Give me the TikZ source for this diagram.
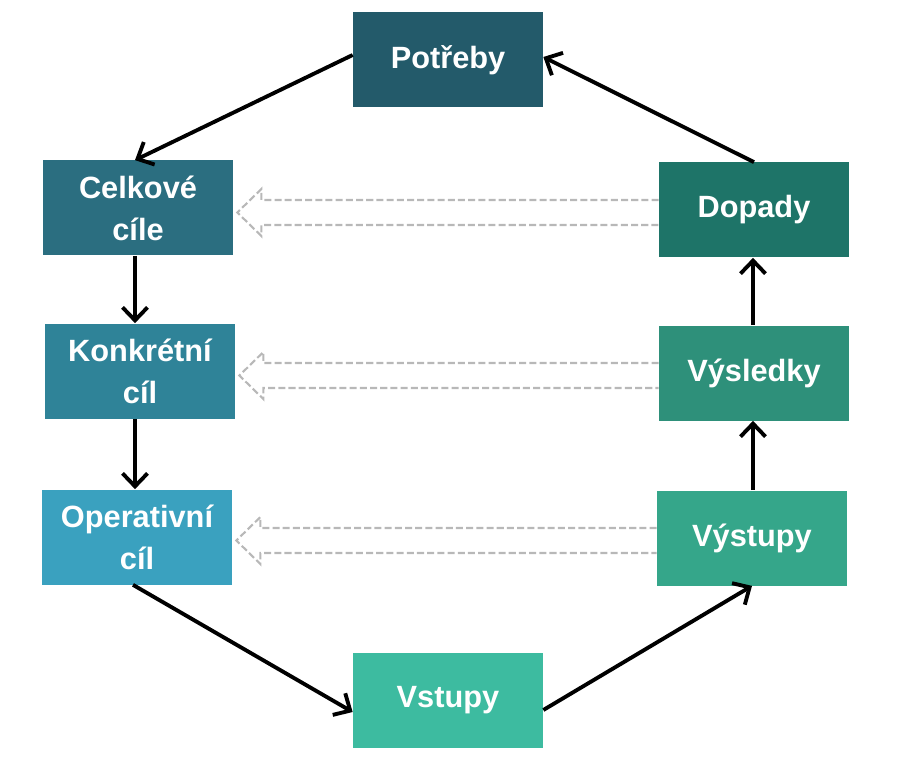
\documentclass[tikz,border=0pt]{standalone}
\usepackage{fontspec}
\setmainfont{Liberation Sans}
\usepackage{xcolor}
\usepackage{tikz}
\usetikzlibrary{arrows.meta}

\definecolor{cPotreby}{HTML}{235A6A}
\definecolor{cCelkove}{HTML}{2B6E80}
\definecolor{cKonkretni}{HTML}{2F8398}
\definecolor{cOperativni}{HTML}{3AA1BF}
\definecolor{cVstupy}{HTML}{3DBBA0}
\definecolor{cVystupy}{HTML}{35A68A}
\definecolor{cVysledky}{HTML}{2E907A}
\definecolor{cDopady}{HTML}{1E7468}
\definecolor{cDash}{HTML}{B8B8B8}

\tikzset{
    box/.style={minimum width=3.8cm, minimum height=1.9cm, text=white, align=center,
        font=\fontsize{17.5}{24}\selectfont\bfseries, inner sep=0pt},
    flow/.style={line width=2.2pt, -{Straight Barb[length=2.6mm, width=5mm, line width=2.2pt]}},
    hollow/.style={cDash, line width=1.2pt, dash pattern=on 4pt off 1.8pt}
}

\begin{document}
\begin{tikzpicture}
    \useasboundingbox (0,0) rectangle (18,15.4);
    \node[box, fill=cPotreby] (potreby) at (8.96,14.2) {\raisebox{-0.1cm}{Potřeby}};
    \node[box, fill=cCelkove] (celkove) at (2.76,11.24) {Celkové\\cíle};
    \node[box, fill=cKonkretni] (konkretni) at (2.80,7.98) {Konkrétní\\cíl};
    \node[box, fill=cOperativni] (operativni) at (2.74,4.66) {Operativní\\cíl};
    \node[box, fill=cVstupy] (vstupy) at (8.96,1.40) {Vstupy};
    \node[box, fill=cVystupy] (vystupy) at (15.04,4.64) {Výstupy};
    \node[box, fill=cVysledky] (vysledky) at (15.08,7.94) {Výsledky};
    \node[box, fill=cDopady] (dopady) at (15.08,11.20) {Dopady};
    % feedback (hollow dashed arrows)
    \foreach \src/\dst in {dopady/celkove, vysledky/konkretni, vystupy/operativni}{
        \coordinate (tip) at ([shift={(0.08,-0.05)}]\dst.east |- \src.west);
        \draw[hollow] ([yshift=0.2cm]\src.west) -- ([shift={(0.48,0.25)}]tip)
            -- ([shift={(0.48,0.47)}]tip) -- (tip) -- ([shift={(0.48,-0.47)}]tip)
            -- ([shift={(0.48,-0.25)}]tip) -- ([yshift=-0.3cm]\src.west);
    }
    % cycle
    \draw[flow] ([yshift=0.1cm]potreby.west) -- ([xshift=-0.06cm]celkove.north);
    \draw[flow] ([xshift=-0.06cm]celkove.south) -- ([xshift=-0.06cm]celkove.south |- konkretni.north);
    \draw[flow] ([xshift=-0.06cm]celkove.south |- konkretni.south) -- ([xshift=-0.06cm]celkove.south |- operativni.north);
    \draw[flow] ([xshift=-0.08cm]operativni.south) -- ([yshift=-0.24cm]vstupy.west);
    \draw[flow] ([yshift=-0.2cm]vstupy.east) -- (vystupy.south);
    \draw[flow] ([xshift=0.02cm]vystupy.north) -- ([xshift=0.02cm]vystupy.north |- vysledky.south);
    \draw[flow] ([xshift=0.02cm]vystupy.north |- vysledky.north) -- ([xshift=0.02cm]vystupy.north |- dopady.south);
    \draw[flow] (dopady.north) -- ([yshift=0.06cm]potreby.east);
\end{tikzpicture}
\end{document}
